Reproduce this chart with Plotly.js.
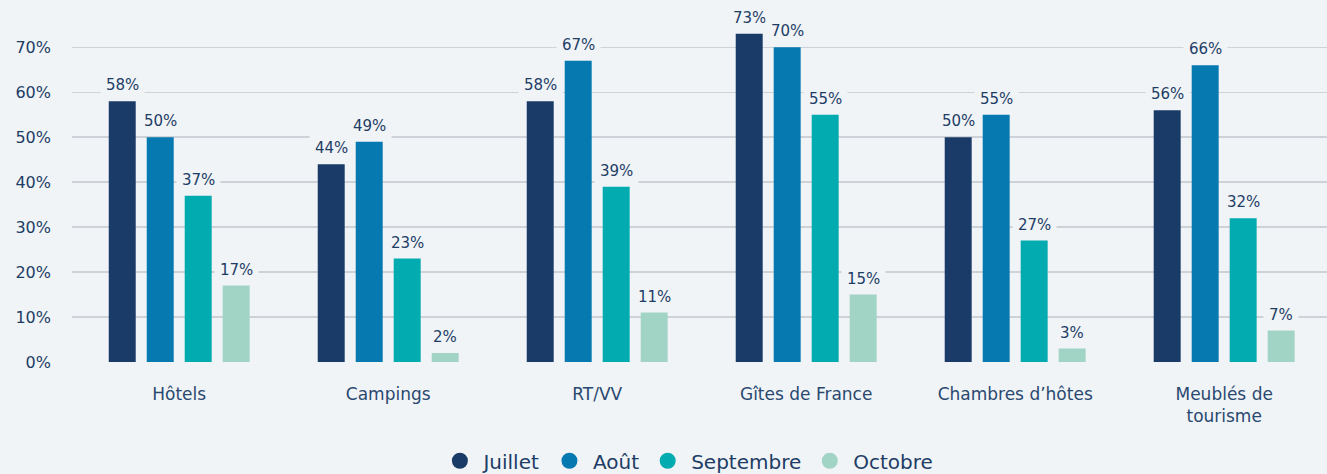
<!DOCTYPE html>
<html>
<head>
<meta charset="utf-8">
<script src="https://cdn.plot.ly/plotly-3.0.1.min.js"></script>
<style>html,body{margin:0;padding:0;background:#f0f4f6;}#chart{width:1327px;height:474px;}</style>
</head>
<body>
<div id="chart"></div>
<script>
const categories = ["Hôtels", "Campings", "RT/VV", "Gîtes de France", "Chambres d’hôtes", "Meublés de<br>tourisme"];
const seriesNames = ["Juillet", "Août", "Septembre", "Octobre"];
const juillet   = [58, 44, 58, 73, 50, 56];
const aout      = [50, 49, 67, 70, 55, 66];
const septembre = [37, 23, 39, 55, 27, 32];
const octobre   = [17, 2, 11, 15, 3, 7];
const yTicks = [0, 10, 20, 30, 40, 50, 60, 70];

const seriesValues = [juillet, aout, septembre, octobre];
const colors = ["#1a3b68", "#0679b0", "#02abb0", "#a1d4c4"];
const bg = "#f0f4f6";
const textColor = "#1e3d66";
const FONT = "DejaVu Sans, sans-serif";
const bargap = 0.273;

const traces = [];
seriesValues.forEach((vals, i) => {
  traces.push({
    type: "bar",
    x: categories.map((c, j) => j),
    y: vals,
    name: seriesNames[i],
    marker: {color: colors[i]},
    showlegend: false,
    hoverinfo: "none"
  });
});
seriesValues.forEach((vals, i) => {
  traces.push({
    type: "scatter",
    mode: "markers",
    x: [null], y: [null],
    name: seriesNames[i],
    marker: {color: colors[i], size: 22, symbol: "circle"},
    showlegend: true,
    hoverinfo: "none"
  });
});

const slot = (1 - bargap) / seriesValues.length;
const annotations = [];
seriesValues.forEach((vals, i) => {
  vals.forEach((v, j) => {
    annotations.push({
      x: j + (i - (seriesValues.length - 1) / 2) * slot,
      y: v,
      xref: "x", yref: "y",
      text: v + "%",
      showarrow: false,
      yanchor: "bottom",
      yshift: 1,
      bgcolor: bg,
      borderpad: 5,
      font: {family: FONT, size: 15, color: textColor}
    });
  });
});

const layout = {
  width: 1327, height: 474,
  paper_bgcolor: bg, plot_bgcolor: bg,
  margin: {l: 72, r: 0, t: 10, b: 112},
  barmode: "group",
  bargap: bargap,
  bargroupgap: 0.29,
  font: {family: FONT, color: textColor},
  xaxis: {
    type: "linear",
    range: [-0.513, 5.492],
    tickvals: categories.map((c, j) => j),
    ticktext: categories,
    showgrid: false, zeroline: false, showline: false,
    ticks: "",
    ticklabelstandoff: 20,
    tickfont: {family: FONT, size: 17, color: "#2a4870"}
  },
  yaxis: {
    range: [0, 78.3],
    tickvals: yTicks,
    ticktext: yTicks.map(t => t + "%"),
    showgrid: true, gridcolor: "#cdd2d9", gridwidth: 1.5,
    zeroline: false, showline: false, ticks: "",
    ticklabelstandoff: 20,
    tickfont: {family: FONT, size: 16, color: textColor}
  },
  showlegend: true,
  legend: {
    orientation: "h",
    xref: "container", yref: "container",
    x: 0.518, xanchor: "center",
    y: 0.028, yanchor: "middle",
    font: {family: FONT, size: 20, color: textColor},
    itemwidth: 37,
    bgcolor: "rgba(0,0,0,0)"
  },
  annotations: annotations
};

Plotly.newPlot("chart", traces, layout, {displayModeBar: false, staticPlot: true});
</script>
</body>
</html>
